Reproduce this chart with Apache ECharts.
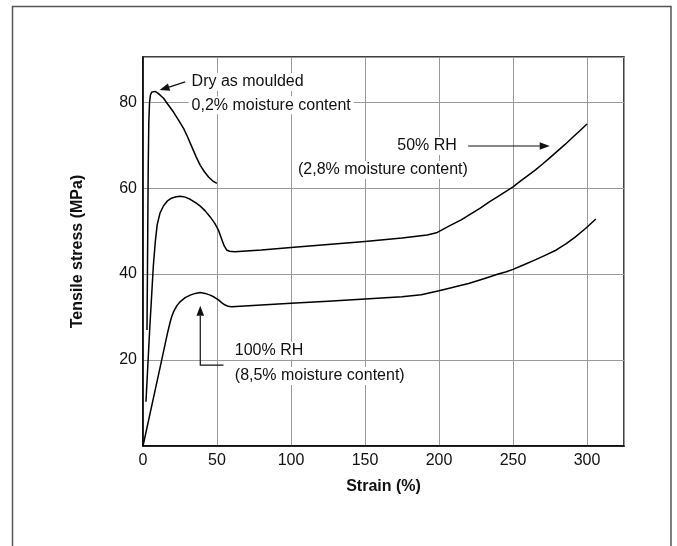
<!DOCTYPE html>
<html>
<head>
<meta charset="utf-8">
<script src="https://cdn.jsdelivr.net/npm/echarts@6/dist/echarts.min.js"></script>
<style>
html,body{margin:0;padding:0;background:#fff;}
#chart{width:677px;height:546px;}
</style>
</head>
<body>
<div id="chart"></div>
<script>
// Series data: [strain %, tensile stress MPa]
var dryAsMoulded = [[2.7,27.0],[3.1,45],[3.5,64],[3.9,75],[4.4,79.8],[5.0,81.6],[5.8,82.3],[6.8,82.6],[8.2,82.5],[10,82.1],[12,81.5],[13.9,80.9],[17,79.4],[20.6,77.7],[24,75.8],[27.4,73.9],[30,72.0],[33.0,69.6],[36,67.2],[38.7,65.3],[41.5,63.8],[44.3,62.6],[47,61.7],[49.9,61.1]];
var rh50 = [[2.0,10.3],[4.5,27],[7,42],[8.3,47.5],[9.6,51.5],[11.5,54.2],[13.9,55.9],[16.5,57.0],[19.6,57.7],[22.5,58.0],[25.2,58.1],[28.5,57.9],[31.9,57.4],[35.5,56.6],[38.7,55.8],[42,54.7],[45.4,53.3],[48.5,51.8],[51,50.2],[53,48.3],[54.8,46.6],[56.5,45.6],[58.5,45.3],[62,45.2],[80,45.6],[100,46.2],[125,46.9],[150,47.6],[175,48.4],[192,49.1],[198.3,49.6],[202,50.3],[208,51.4],[215,52.6],[221,53.9],[227.6,55.3],[234,56.8],[240,58.1],[245,59.2],[250,60.3],[255,61.6],[260,62.9],[265,64.2],[270,65.6],[275,67.1],[280,68.6],[285,70.1],[290,71.7],[295,73.3],[300,74.9]];
var rh100 = [[0,0],[6,9.5],[12,19],[16.5,26.2],[18.4,28.9],[19.5,30.2],[20.6,31.2],[22.8,32.6],[25.2,33.6],[28.5,34.5],[31.9,35.1],[35.3,35.5],[38.7,35.7],[42,35.5],[45.4,35.1],[48.3,34.6],[51,34.0],[53.3,33.3],[55.5,32.8],[57.5,32.5],[60,32.4],[80,32.8],[100,33.2],[125,33.7],[150,34.2],[175,34.7],[188,35.2],[200,36.1],[207,36.7],[213,37.2],[220,37.8],[227.6,38.6],[234,39.3],[240,40.0],[245,40.5],[250,41.1],[257,42.1],[265,43.3],[272,44.4],[279.3,45.6],[286,47.1],[292,48.6],[299,50.6],[306,52.8]];

var xTicks = [0, 50, 100, 150, 200, 250, 300];
var yTicks = [20, 40, 60, 80];
var xTitle = 'Strain (%)';
var yTitle = 'Tensile stress (MPa)';

// Annotation texts and anchor points (data coordinates)
var annoTexts = ['Dry as moulded', '0,2% moisture content', '50% RH', '(2,8% moisture content)', '100% RH', '(8,5% moisture content)'];
var annoAnchors = [[30.8,84.7],[30.8,79.3],[214.1,69.8],[102.7,64.2],[60.0,22.2],[60.0,16.3]];
var annoAlign = ['left','left','right','left','left','left'];
var arrowDry = [[28.5,84.7],[11.2,82.8]];
var arrow50 = [[219.7,69.8],[274.8,69.8]];
var arrow100 = [[54.4,18.8],[38.7,18.8],[38.7,32.6]];

var FONT = '"Liberation Sans", Arial, sans-serif';
var chart = echarts.init(document.getElementById('chart'), null, {renderer:'canvas'});

function lineSeries(name, data){
  return {name:name, type:'line', data:data, showSymbol:false, symbol:'none',
    smooth:false,
    lineStyle:{color:'#000', width:1.5, join:'round'}, z:5, animation:false};
}

chart.setOption({
  animation:false,
  backgroundColor:'#fff',
  grid:{left:143, right:53, top:57, bottom:100, containLabel:false,
        show:true, borderColor:'#000', borderWidth:1.5, backgroundColor:'transparent'},
  xAxis:{type:'value', min:0, max:325, interval:50,
    name:xTitle, nameLocation:'middle', nameGap:33,
    nameTextStyle:{fontFamily:FONT, fontSize:16, fontWeight:'bold', color:'#111'},
    axisLine:{show:true, lineStyle:{color:'#000', width:1.5}},
    axisTick:{show:false},
    axisLabel:{fontFamily:FONT, fontSize:16, color:'#111', margin:7,
      formatter:function(v){ return xTicks.indexOf(v) >= 0 ? String(v) : ''; }},
    splitLine:{show:true, lineStyle:{color:'#9a9a9a', width:1}}
  },
  yAxis:{type:'value', min:0, max:90.5, interval:20,
    name:yTitle, nameLocation:'middle', nameGap:57, nameRotate:90,
    nameTextStyle:{fontFamily:FONT, fontSize:16, fontWeight:'bold', color:'#111'},
    axisLine:{show:true, lineStyle:{color:'#000', width:1.5}},
    axisTick:{show:false},
    axisLabel:{fontFamily:FONT, fontSize:16, color:'#111', margin:6,
      formatter:function(v){ return yTicks.indexOf(v) >= 0 ? String(v) : ''; }},
    splitLine:{show:true, lineStyle:{color:'#9a9a9a', width:1}}
  },
  series:[lineSeries('Dry as moulded', dryAsMoulded), lineSeries('50% RH', rh50), lineSeries('100% RH', rh100)]
});

function px(p){ return chart.convertToPixel({gridIndex:0}, p); }

function arrowEls(pts){
  var pp = pts.map(px);
  var els = [];
  var n = pp.length;
  var tip = pp[n-1], prev = pp[n-2];
  var dx = tip[0]-prev[0], dy = tip[1]-prev[1];
  var len = Math.sqrt(dx*dx+dy*dy); dx/=len; dy/=len;
  var hl = 10, hw = 3.8;
  var base = [tip[0]-dx*hl, tip[1]-dy*hl];
  var linePts = pp.slice(0, n-1).concat([base]);
  els.push({type:'polyline', shape:{points:linePts}, style:{stroke:'#111', lineWidth:1.2, fill:null}, z:20});
  els.push({type:'polygon', shape:{points:[tip,[base[0]-dy*hw, base[1]+dx*hw],[base[0]+dy*hw, base[1]-dx*hw]]}, style:{fill:'#111'}, z:20});
  return els;
}

var g = [];
// outer frame
g.push({type:'rect', shape:{x:12.5, y:6.5, width:658.5, height:620}, style:{fill:null, stroke:'#555', lineWidth:1.5}, z:1, silent:true});
annoTexts.forEach(function(t, i){
  var p = px(annoAnchors[i]);
  g.push({type:'text', x:p[0], y:p[1], z:15,
    style:{text:t, fontFamily:FONT, fontSize:16, fill:'#111', align:annoAlign[i], verticalAlign:'middle',
      backgroundColor:'#fff', padding:[1,3,1,3]}});
});
g = g.concat(arrowEls(arrowDry), arrowEls(arrow50), arrowEls(arrow100));
chart.setOption({graphic:g});
</script>
</body>
</html>
